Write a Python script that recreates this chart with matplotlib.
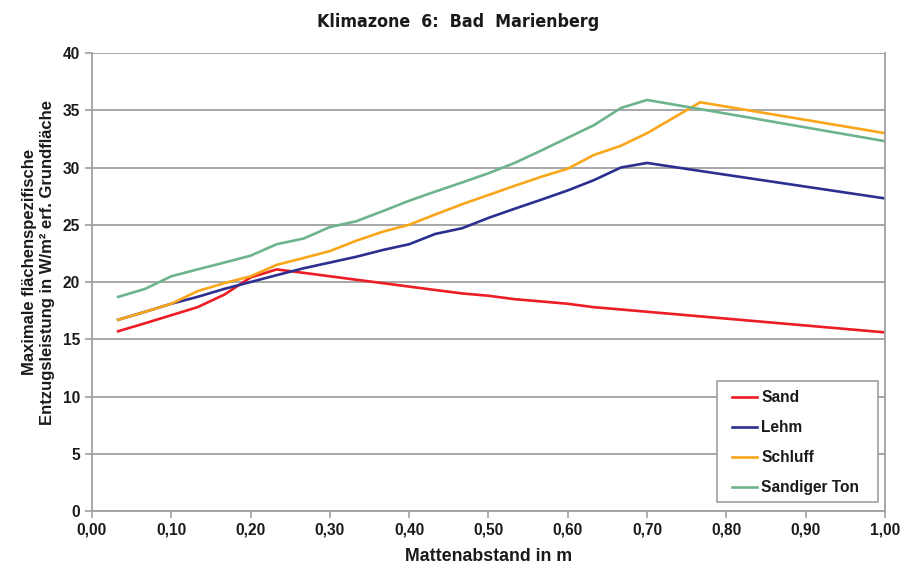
import matplotlib
matplotlib.use("Agg")
import matplotlib.pyplot as plt
from matplotlib.ticker import FuncFormatter, MultipleLocator
from matplotlib.patches import Rectangle
from matplotlib import font_manager
from matplotlib.font_manager import FontProperties

# Mattenabstand in m
abstand = [0.033, 0.067, 0.100, 0.133, 0.167, 0.200, 0.233, 0.267, 0.300, 0.333,
           0.367, 0.400, 0.433, 0.467, 0.500, 0.533, 0.567, 0.600, 0.633, 0.667,
           0.700, 0.767, 1.000]

# Entzugsleistung in W/m² je Bodenart
sand = [15.7, 16.4, 17.1, 17.8, 18.9, 20.4, 21.1, 20.8, 20.5, 20.2,
        19.9, 19.6, 19.3, 19.0, 18.8, 18.5, 18.3, 18.1, 17.8, 17.6,
        17.4, 17.0, 15.6]
lehm = [16.7, 17.4, 18.1, 18.7, 19.4, 20.0, 20.6, 21.2, 21.7, 22.2,
        22.8, 23.3, 24.2, 24.7, 25.6, 26.4, 27.2, 28.0, 28.9, 30.0,
        30.4, 29.7, 27.3]
schluff = [16.7, 17.4, 18.1, 19.2, 19.9, 20.5, 21.5, 22.1, 22.7, 23.6,
           24.4, 25.0, 25.9, 26.8, 27.6, 28.4, 29.2, 29.9, 31.1, 31.9,
           33.0, 35.7, 33.0]
sandiger_ton = [18.7, 19.4, 20.5, 21.1, 21.7, 22.3, 23.3, 23.8, 24.8, 25.3,
                26.2, 27.1, 27.9, 28.7, 29.5, 30.4, 31.5, 32.6, 33.7, 35.2,
                35.9, 35.1, 32.3]

series = [("Sand", sand, "#EE1C25"),
          ("Lehm", lehm, "#2B2F8F"),
          ("Schluff", schluff, "#FAA61A"),
          ("Sandiger Ton", sandiger_ton, "#6DB48C")]

plt.rcParams["font.family"] = ["Liberation Sans", "DejaVu Sans"]
plt.rcParams["font.weight"] = "bold"


# narrow bold font for the title
def narrow_font(size):
    best = None
    for f in font_manager.fontManager.ttflist:
        key = (f.name + " " + f.fname).lower()
        if ("narrow" in key or "condensed" in key) and f.weight in (700, "bold") \
                and "oblique" not in key and "italic" not in key:
            rank = 0 if "liberation" in key else 1
            if best is None or rank < best[0]:
                best = (rank, f.fname)
    if best:
        return FontProperties(fname=best[1], size=size)
    return FontProperties(family="DejaVu Sans", weight="bold", size=size)


# Liberation Sans Bold file for the tick labels
def tick_font(size):
    for f in font_manager.fontManager.ttflist:
        if "liberationsans-bold.ttf" in f.fname.lower():
            return FontProperties(fname=f.fname, size=size)
    return FontProperties(family=["Liberation Sans", "DejaVu Sans"], weight="bold", size=size)


grey = "#A0A0A0"
dark = "#1A1A1A"

fig = plt.figure(figsize=(9.17, 5.75), dpi=100)
ax = fig.add_axes([0.1003, 0.1113, 0.8648, 0.7965])

for name, vals, col in series:
    ax.plot(abstand, vals, color=col, lw=1.9, label=name)

ax.set_xlim(0, 1.0)
ax.set_ylim(0, 40)
ax.xaxis.set_major_locator(MultipleLocator(0.1))
ax.yaxis.set_major_locator(MultipleLocator(5))
ax.xaxis.set_major_formatter(FuncFormatter(lambda v, p: f"{v:.2f}".replace(".", ",")))
ax.yaxis.set_major_formatter(FuncFormatter(lambda v, p: f"{v:.0f}"))

ax.grid(axis="y", color=grey, lw=1.3)
ax.set_axisbelow(True)
for side in ["left", "bottom", "right"]:
    ax.spines[side].set_color(grey)
    ax.spines[side].set_linewidth(1.3)
ax.spines["top"].set_visible(False)
ax.tick_params(axis="both", colors=grey, labelcolor=dark, length=5, width=1.2, labelsize=11)

ax.set_xlabel("Mattenabstand in m", fontsize=12.8, fontweight="bold", color=dark)
ax.xaxis.set_label_coords(0.5, -0.1, transform=ax.transAxes)
ax.xaxis.label.set_va("center")
ax.set_ylabel("Maximale flächenspezifische\nEntzugsleistung in W/m² erf. Grundfläche",
              fontsize=12.0, fontweight="bold", color=dark, linespacing=1.28)
ax.yaxis.set_label_coords(-0.046, 0.543)

fig.text(0.5, 0.962, "Klimazone  6:  Bad  Marienberg", ha="center", va="center",
         fontproperties=narrow_font(12.8), color=dark)

# legend frame drawn separately so padding matches the original box
ax.add_patch(Rectangle((0.788, 0.0197), 0.203, 0.264, transform=ax.transAxes,
                       facecolor="white", edgecolor=grey, lw=1.2, zorder=4))
leg = ax.legend(loc="upper left", bbox_to_anchor=(0.807, 0.2642), borderaxespad=0,
                frameon=False, handlelength=1.6, handletextpad=0.27,
                labelspacing=0.97, borderpad=0,
                prop={"weight": "bold", "size": 11.2})
for t in leg.get_texts():
    t.set_color(dark)
leg.set_zorder(5)

fig.canvas.draw()
tick_fp = tick_font(11.2)
for lab in ax.get_xticklabels() + ax.get_yticklabels():
    lab.set_fontproperties(tick_fp)

fig.savefig("out.png", dpi=100)
